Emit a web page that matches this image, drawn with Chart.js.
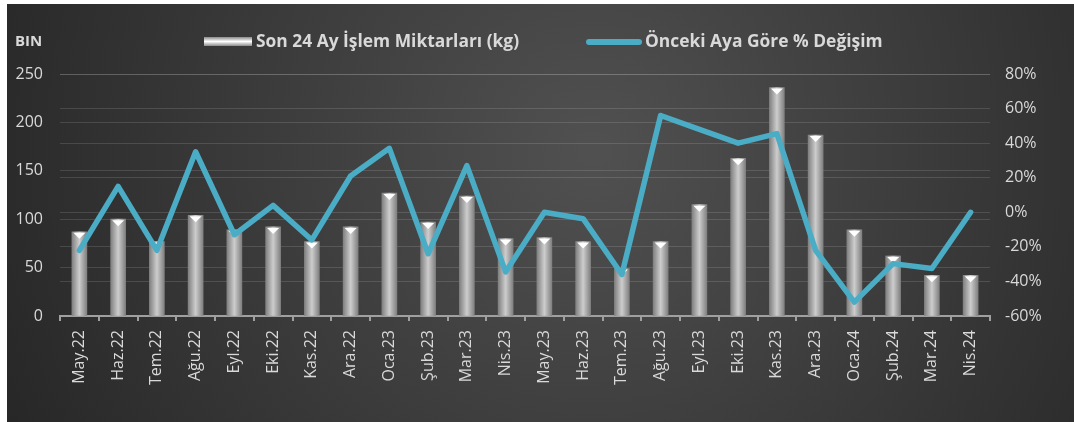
<!DOCTYPE html>
<html>
<head>
<meta charset="utf-8">
<script src="https://cdn.jsdelivr.net/npm/chart.js@4.4.1/dist/chart.umd.min.js"></script>
<style>
  html, body { margin: 0; padding: 0; background: #fff; }
  #wrap { position: absolute; left: 7px; top: 4px; width: 1067px; height: 418px; }
</style>
</head>
<body>
<div id="wrap"><canvas id="chart"></canvas></div>
<script>
// chart data
const months = ['May.22', 'Haz.22', 'Tem.22', 'Ağu.22', 'Eyl.22', 'Eki.22', 'Kas.22', 'Ara.22',
  'Oca.23', 'Şub.23', 'Mar.23', 'Nis.23', 'May.23', 'Haz.23', 'Tem.23', 'Ağu.23',
  'Eyl.23', 'Eki.23', 'Kas.23', 'Ara.23', 'Oca.24', 'Şub.24', 'Mar.24', 'Nis.24'];
const amounts = [87, 100, 77, 104, 89, 92, 77, 92, 127, 97, 124, 80, 81, 77, 49, 77, 115, 163, 236, 187, 89, 62, 42, 42];
const changes = [-22, 15, -22, 35, -13, 4, -16, 21, 37, -24, 27, -34.5, 0, -3.7, -36, 56, 48, 40, 45.5, -22, -52, -29.7, -32.5, 0];
const amountTicks = [0, 50, 100, 150, 200, 250];
const changeTicks = [-60, -40, -20, 0, 20, 40, 60, 80];

const barLabel = 'Son 24 Ay İşlem Miktarları (kg)';
const lineLabel = 'Önceki Aya Göre % Değişim';
const lineColor = '#4bacc6';
const textColor = '#d9d9d9';
const fontFamily = '"Open Sans", Lato, sans-serif';

// bar fill: grey cylinder shading
function barFill(context) {
  const chart = context.chart;
  const x = chart.scales.x;
  if (!x) return '#aaa';
  const cx = x.getPixelForValue(context.dataIndex);
  if (!isFinite(cx)) return '#aaa';
  const g = chart.ctx.createLinearGradient(cx - 7.5, 0, cx + 7.5, 0);
  g.addColorStop(0, '#808080');
  g.addColorStop(0.5, '#cdcdcd');
  g.addColorStop(1, '#808080');
  return g;
}

const backgroundPlugin = {
  id: 'panelBg',
  beforeDraw(chart) {
    const { ctx, width, height } = chart;
    const g = ctx.createRadialGradient(width * 0.55, height * 0.35, 10, width * 0.55, height * 0.35, width * 0.62);
    g.addColorStop(0, '#505050');
    g.addColorStop(1, '#262626');
    ctx.save();
    ctx.fillStyle = g;
    ctx.fillRect(0, 0, width, height);
    ctx.restore();
  }
};

// white bevel triangles on top of each bar
const bevelPlugin = {
  id: 'bevel',
  afterDatasetDraw(chart, args) {
    if (args.index !== 0) return;
    const ctx = chart.ctx;
    ctx.save();
    ctx.fillStyle = '#ffffff';
    args.meta.data.forEach(bar => {
      ctx.beginPath();
      ctx.moveTo(bar.x - 6, bar.y + 1);
      ctx.lineTo(bar.x + 6, bar.y + 1);
      ctx.lineTo(bar.x, bar.y + 7);
      ctx.closePath();
      ctx.fill();
    });
    ctx.restore();
  }
};

// legend and unit caption
const legendPlugin = {
  id: 'customLegend',
  afterDraw(chart) {
    const ctx = chart.ctx;
    ctx.save();
    ctx.textBaseline = 'middle';
    ctx.fillStyle = textColor;
    ctx.font = 'bold 15px ' + fontFamily;
    ctx.fillText('BIN', 8, 38);

    const g = ctx.createLinearGradient(0, 33, 0, 42);
    g.addColorStop(0, '#8a8a8a');
    g.addColorStop(0.5, '#ffffff');
    g.addColorStop(1, '#8a8a8a');
    ctx.fillStyle = g;
    ctx.fillRect(197, 33, 48, 9);

    ctx.fillStyle = textColor;
    ctx.font = 'bold 17.4px ' + fontFamily;
    ctx.fillText(barLabel, 249, 38);

    ctx.strokeStyle = lineColor;
    ctx.lineWidth = 6;
    ctx.lineCap = 'round';
    ctx.beginPath();
    ctx.moveTo(582, 38);
    ctx.lineTo(632, 38);
    ctx.stroke();

    ctx.fillText(lineLabel, 638, 38);
    ctx.restore();
  }
};

new Chart(document.getElementById('chart'), {
  data: {
    labels: months,
    datasets: [
      {
        type: 'bar',
        label: barLabel,
        data: amounts,
        yAxisID: 'y',
        backgroundColor: barFill,
        barThickness: 15,
        order: 1
      },
      {
        type: 'line',
        label: lineLabel,
        data: changes,
        yAxisID: 'y1',
        borderColor: lineColor,
        borderWidth: 5.5,
        pointRadius: 0,
        tension: 0,
        borderJoinStyle: 'round',
        borderCapStyle: 'round',
        order: 0
      }
    ]
  },
  options: {
    responsive: true,
    maintainAspectRatio: false,
    animation: false,
    layout: { padding: { top: 70, left: 0, right: 0, bottom: 0 } },
    plugins: {
      legend: { display: false },
      tooltip: { enabled: false }
    },
    scales: {
      x: {
        offset: true,
        grid: {
          offset: true,
          drawOnChartArea: false,
          drawTicks: true,
          tickLength: 5,
          color: '#a0a0a0',
          lineWidth: 2
        },
        border: { display: true, color: '#a0a0a0', width: 2 },
        ticks: {
          color: textColor,
          font: { family: fontFamily, size: 16 },
          minRotation: 90,
          maxRotation: 90,
          padding: 9,
          autoSkip: false
        },
        afterFit(scale) { scale.height = 106; }
      },
      y: {
        position: 'left',
        min: 0,
        max: 250,
        afterBuildTicks(scale) { scale.ticks = amountTicks.map(v => ({ value: v })); },
        grid: { color: 'rgba(255,255,255,0.13)', lineWidth: 1, drawTicks: false },
        border: { display: false },
        ticks: {
          color: textColor,
          font: { family: fontFamily, size: 16 },
          padding: 17
        },
        afterFit(scale) { scale.width = 53; }
      },
      y1: {
        position: 'right',
        min: -60,
        max: 80,
        afterBuildTicks(scale) { scale.ticks = changeTicks.map(v => ({ value: v })); },
        grid: { color: 'rgba(255,255,255,0.13)', lineWidth: 1, drawTicks: false },
        border: { display: false },
        ticks: {
          color: textColor,
          font: { family: fontFamily, size: 16 },
          padding: 15,
          callback: v => v + '%'
        },
        afterFit(scale) { scale.width = 84; }
      }
    }
  },
  plugins: [backgroundPlugin, bevelPlugin, legendPlugin]
});
</script>
</body>
</html>
